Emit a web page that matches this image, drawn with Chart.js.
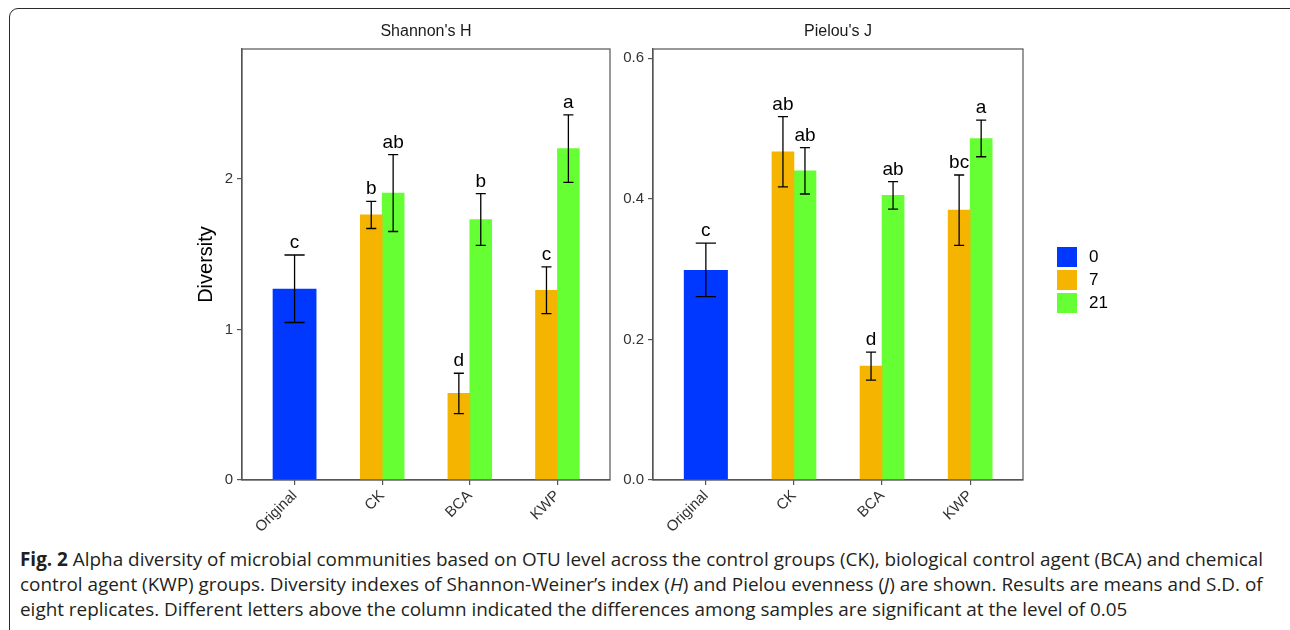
<!DOCTYPE html>
<html>
<head>
<meta charset="utf-8">
<script src="https://cdn.jsdelivr.net/npm/chart.js@4.4.1/dist/chart.umd.min.js"></script>
<style>
  html, body { margin: 0; padding: 0; background: #fff; width: 1290px; height: 630px; overflow: hidden; }
  #frame { position: absolute; left: 9px; top: 8px; width: 1310px; height: 660px; border: 1.5px solid #2b2b2b; border-radius: 9px; box-sizing: border-box; }
  #left { position: absolute; left: 0; top: 0; }
  #right { position: absolute; left: 615px; top: 0; }
  #caption { position: absolute; left: 20px; top: 547px; font-family: "Open Sans", sans-serif; font-size: 18.9px; line-height: 25px; color: #231f20; white-space: nowrap; }
  #caption b { font-weight: 700; }
</style>
</head>
<body>
<div id="frame"></div>
<canvas id="left" width="615" height="540"></canvas>
<canvas id="right" width="675" height="540"></canvas>
<div id="caption"><b>Fig. 2</b> Alpha diversity of microbial communities based on OTU level across the control groups (CK), biological control agent (BCA) and chemical<br>control agent (KWP) groups. Diversity indexes of Shannon-Weiner’s index (<i>H</i>) and Pielou evenness (<i>J</i>) are shown. Results are means and S.D. of<br>eight replicates. Different letters above the column indicated the differences among samples are significant at the level of 0.05</div>

<script>
// Groups on the x axis and sampling days (series)
const groups = ['Original', 'CK', 'BCA', 'KWP'];
const days = ['0', '7', '21'];
const dayColors = ['#0038FF', '#F4B400', '#66FF33'];

// Shannon's H: means, S.D. and significance letters per day
const shannonMean0 = [1.27, null, null, null];
const shannonMean7 = [null, 1.76, 0.575, 1.26];
const shannonMean21 = [null, 1.905, 1.73, 2.20];
const shannonSd0 = [0.224, null, null, null];
const shannonSd7 = [null, 0.09, 0.134, 0.155];
const shannonSd21 = [null, 0.255, 0.172, 0.224];
const shannonLetters0 = ['c', null, null, null];
const shannonLetters7 = [null, 'b', 'd', 'c'];
const shannonLetters21 = [null, 'ab', 'b', 'a'];
const shannonTicks = [0, 1, 2];

// Pielou's J: means, S.D. and significance letters per day
const pielouMean0 = [0.299, null, null, null];
const pielouMean7 = [null, 0.467, 0.162, 0.384];
const pielouMean21 = [null, 0.440, 0.405, 0.486];
const pielouSd0 = [0.038, null, null, null];
const pielouSd7 = [null, 0.050, 0.020, 0.050];
const pielouSd21 = [null, 0.033, 0.0195, 0.026];
const pielouLetters0 = ['c', null, null, null];
const pielouLetters7 = [null, 'ab', 'd', 'bc'];
const pielouLetters21 = [null, 'ab', 'ab', 'a'];
const pielouTicks = [0, 0.2, 0.4, 0.6];

const FONT = '"Liberation Sans", Arial, sans-serif';
const DODGE = 0.5; // total dodge width in category units

// Builds bar datasets; bars within a group are dodged side by side
function buildDatasets(means, sds, letters) {
  return means.map((series, k) => {
    const pts = [];
    series.forEach((m, i) => {
      if (m === null) return;
      const present = means.map((s, kk) => s[i] !== null ? kk : -1).filter(v => v >= 0);
      const n = present.length;
      const pos = present.indexOf(k);
      const w = DODGE / n;
      const x = i - DODGE / 2 + w * (pos + 0.5);
      pts.push({ x: x, y: m, sd: sds[k][i], letter: letters[k][i] });
    });
    const single = pts.length && means.every((s, kk) => kk === k || s.every((v, i) => series[i] === null || v === null));
    return {
      label: days[k],
      data: pts,
      backgroundColor: dayColors[k],
      borderWidth: 0,
      grouped: false,
      categoryPercentage: 1,
      barPercentage: single ? 2 : 1
    };
  });
}

// Error bars with caps, and the letter above each bar
const errorBars = {
  id: 'errorBars',
  afterDatasetsDraw(chart) {
    const { ctx } = chart;
    const y = chart.scales.y;
    chart.data.datasets.forEach((ds, d) => {
      const meta = chart.getDatasetMeta(d);
      meta.data.forEach((bar, j) => {
        const pt = ds.data[j];
        const top = y.getPixelForValue(pt.y + pt.sd);
        const bot = y.getPixelForValue(pt.y - pt.sd);
        const half = bar.width * 0.23;
        ctx.save();
        ctx.strokeStyle = '#000';
        ctx.lineWidth = 1.3;
        ctx.beginPath();
        ctx.moveTo(bar.x, top); ctx.lineTo(bar.x, bot);
        ctx.moveTo(bar.x - half, top); ctx.lineTo(bar.x + half, top);
        ctx.moveTo(bar.x - half, bot); ctx.lineTo(bar.x + half, bot);
        ctx.stroke();
        if (pt.letter) {
          ctx.fillStyle = '#000';
          ctx.font = '19px ' + FONT;
          ctx.textAlign = 'center';
          ctx.textBaseline = 'alphabetic';
          ctx.fillText(pt.letter, bar.x, top - 7);
        }
        ctx.restore();
      });
    });
  }
};

// Panel frame, strip title, optional y title and legend
const panelDecor = {
  id: 'panelDecor',
  afterDraw(chart, args, opts) {
    const { ctx, chartArea: a } = chart;
    ctx.save();
    ctx.strokeStyle = '#555';
    ctx.lineWidth = 1.2;
    ctx.strokeRect(a.left, a.top, a.right - a.left, a.bottom - a.top);
    ctx.fillStyle = '#1a1a1a';
    ctx.font = '16px ' + FONT;
    ctx.textAlign = 'center';
    ctx.textBaseline = 'middle';
    ctx.fillText(opts.title, (a.left + a.right) / 2, 32);
    if (opts.yTitle) {
      ctx.save();
      ctx.translate(206, (a.top + a.bottom) / 2);
      ctx.rotate(-Math.PI / 2);
      ctx.font = '20px ' + FONT;
      ctx.fillStyle = '#000';
      ctx.fillText(opts.yTitle, 0, 0);
      ctx.restore();
    }
    if (opts.legend) {
      const lx = opts.legend.x, ly = opts.legend.y;
      chart.data.datasets.forEach((ds, k) => {
        const top = ly + k * 23;
        ctx.fillStyle = ds.backgroundColor;
        ctx.fillRect(lx, top, 20, 20);
        ctx.fillStyle = '#000';
        ctx.font = '17px ' + FONT;
        ctx.textAlign = 'left';
        ctx.textBaseline = 'middle';
        ctx.fillText(ds.label, lx + 32, top + 10.5);
      });
    }
    ctx.restore();
  }
};

function axisOptions(yMax, yTicks, yWidth, yFormat) {
  return {
    x: {
      type: 'linear',
      min: -0.6,
      max: 3.6,
      offset: false,
      afterBuildTicks: s => { s.ticks = groups.map((g, i) => ({ value: i })); },
      afterFit: s => { s.height = 60; },
      ticks: {
        autoSkip: false,
        minRotation: 45,
        maxRotation: 45,
        padding: 2,
        color: '#333',
        font: { family: FONT, size: 15 },
        callback: v => groups[v]
      },
      grid: { offset: false, drawOnChartArea: false, tickLength: 5, color: '#555', lineWidth: 1.2 },
      border: { display: true, color: '#555', width: 1.2 }
    },
    y: {
      min: 0,
      max: yMax,
      afterBuildTicks: s => { s.ticks = yTicks.map(v => ({ value: v })); },
      afterFit: s => { s.width = yWidth; },
      ticks: {
        padding: 4,
        color: '#333',
        font: { family: FONT, size: 15 },
        callback: yFormat
      },
      grid: { drawOnChartArea: false, tickLength: 5, color: '#555', lineWidth: 1.2 },
      border: { display: true, color: '#555', width: 1.2 }
    }
  };
}

new Chart(document.getElementById('left'), {
  type: 'bar',
  data: {
    datasets: buildDatasets(
      [shannonMean0, shannonMean7, shannonMean21],
      [shannonSd0, shannonSd7, shannonSd21],
      [shannonLetters0, shannonLetters7, shannonLetters21])
  },
  options: {
    responsive: false,
    animation: false,
    layout: { padding: { top: 49, right: 5, left: 0, bottom: 0 } },
    plugins: {
      legend: { display: false },
      tooltip: { enabled: false },
      panelDecor: { title: "Shannon's H", yTitle: 'Diversity' }
    },
    scales: axisOptions(2.862, shannonTicks, 242, v => String(v))
  },
  plugins: [errorBars, panelDecor]
});

new Chart(document.getElementById('right'), {
  type: 'bar',
  data: {
    datasets: buildDatasets(
      [pielouMean0, pielouMean7, pielouMean21],
      [pielouSd0, pielouSd7, pielouSd21],
      [pielouLetters0, pielouLetters7, pielouLetters21])
  },
  options: {
    responsive: false,
    animation: false,
    layout: { padding: { top: 49, right: 267, left: 0, bottom: 0 } },
    plugins: {
      legend: { display: false },
      tooltip: { enabled: false },
      panelDecor: { title: "Pielou's J", legend: { x: 442, y: 247 } }
    },
    scales: axisOptions(0.6133, pielouTicks, 38, v => Number(v).toFixed(1))
  },
  plugins: [errorBars, panelDecor]
});
</script>
</body>
</html>
